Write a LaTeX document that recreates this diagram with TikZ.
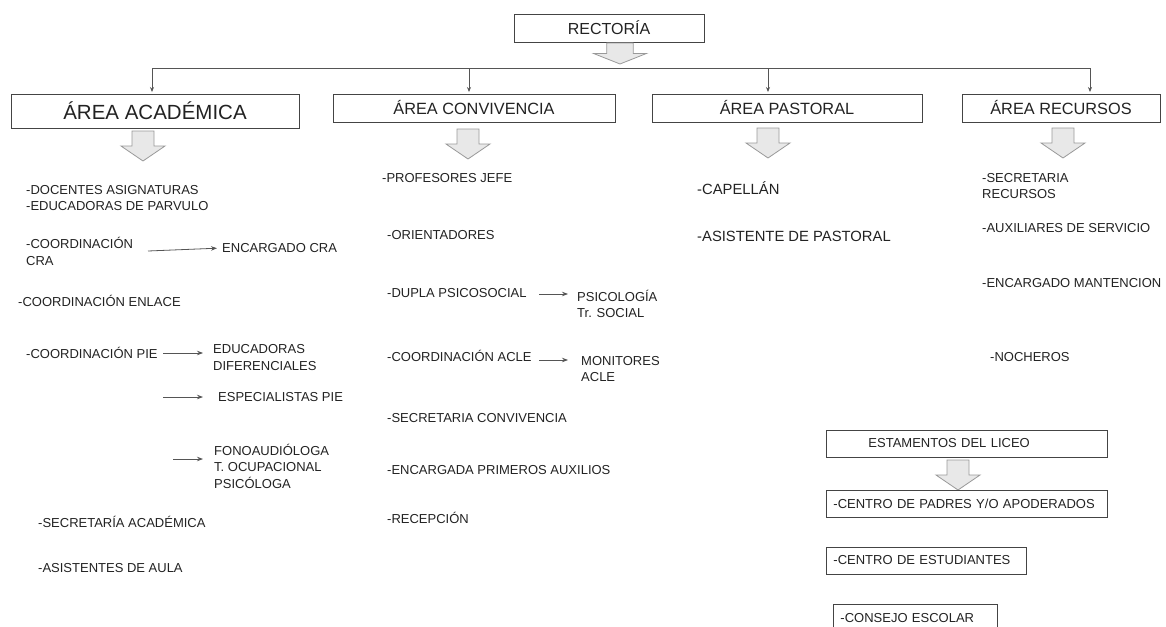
\documentclass[tikz,border=0pt]{standalone}
\usepackage{fontspec}
\setmainfont{Liberation Sans}
\usetikzlibrary{arrows.meta}
\definecolor{txt}{HTML}{222222}
\definecolor{boxc}{HTML}{444444}
\definecolor{bafill}{HTML}{E8E8E8}
\definecolor{bastroke}{HTML}{999999}
\definecolor{arrc}{HTML}{555555}
\begin{document}
\begin{tikzpicture}[x=1pt,y=-1pt,
  item/.style={anchor=west, inner sep=0pt, text=txt, font=\fontsize{13}{16.5}\selectfont, align=left},
  pitem/.style={item, font=\fontsize{14.8}{18}\selectfont},
  areabox/.style={draw=boxc, line width=0.9pt, text=txt, inner sep=0pt, font=\fontsize{16.3}{18}\selectfont},
  lbox/.style={draw=boxc, line width=0.9pt, text=txt, inner xsep=7pt, inner ysep=0pt, anchor=west, align=left, font=\fontsize{13}{16}\selectfont},
  arr/.style={draw=arrc, line width=0.8pt, -{Stealth[length=6pt,width=4.5pt]}},
  darr/.style={draw=arrc, line width=0.8pt, -{Stealth[length=5pt,width=4pt]}},
  barrow/.pic={\draw[draw=bastroke, fill=bafill, line width=0.8pt]
     (-11,0) -- (11,0) -- (11,15) -- (22,15) -- (0,30) -- (-22,15) -- (-11,15) -- cycle;}
]
\useasboundingbox (0,0) rectangle (1166,626);

% top
\node[areabox, minimum width=190pt, minimum height=28pt, font=\fontsize{16}{18}\selectfont] (rect) at (609,28) {RECTORÍA};
\pic[xscale=1.2, yscale=0.7] at (620,43) {barrow};

\node[areabox, minimum width=288pt, minimum height=34pt, font=\fontsize{20.5}{22}\selectfont] (acad) at (155,111) {ÁREA ACADÉMICA};
\node[areabox, minimum width=282pt, minimum height=28pt] (conv) at (474,108) {ÁREA CONVIVENCIA};
\node[areabox, minimum width=270pt, minimum height=28pt] (past) at (787,108) {ÁREA PASTORAL};
\node[areabox, minimum width=198pt, minimum height=28pt] (recu) at (1061,108) {ÁREA RECURSOS};

\coordinate (b1) at (152,68);
\coordinate (b2) at (469,68);
\coordinate (b3) at (768,68);
\coordinate (b4) at (1090,68);
\draw[draw=arrc, line width=0.8pt] (b1) -- (b4);
\draw[darr, shorten >=1.5pt] (b1) -- (b1 |- acad.north);
\draw[darr, shorten >=1.5pt] (b2) -- (b2 |- conv.north);
\draw[darr, shorten >=1.5pt] (b3) -- (b3 |- past.north);
\draw[darr, shorten >=1.5pt] (b4) -- (b4 |- recu.north);

\pic at (143,131) {barrow};
\pic at (468,129) {barrow};
\pic at (768,128) {barrow};
\pic at (1063,128) {barrow};

% academica
\node[item] (doc) at (26,190) {-DOCENTES ASIGNATURAS};
\node[item] (edp) at (26,206) {-EDUCADORAS DE PARVULO};
\node[item] (ccra) at (26,251.5) {-COORDINACIÓN\\CRA};
\node[item] (enccra) at (222,248) {ENCARGADO CRA};
\node[item] (enl) at (18,301) {-COORDINACIÓN ENLACE};
\node[item] (cpie) at (26,353) {-COORDINACIÓN PIE};
\node[item] (edif) at (213,357.5) {EDUCADORAS\\DIFERENCIALES};
\node[item] (espie) at (218,397) {ESPECIALISTAS PIE};
\node[item] (fono) at (214,466) {FONOAUDIÓLOGA\\T. OCUPACIONAL\\PSICÓLOGA};
\node[item] (secac) at (38,522) {-SECRETARÍA ACADÉMICA};
\node[item] (asau) at (38,568) {-ASISTENTES DE AULA};

\coordinate (ccraout) at (148,251);
\coordinate (pieout) at (163,353);
\coordinate (espout) at (163,397);
\coordinate (fonoout) at (173,459);
\draw[arr, shorten >=5pt] (ccraout) -- (enccra.west);
\draw[arr, shorten >=10pt] (pieout) -- (pieout -| edif.west);
\draw[arr, shorten >=15pt] (espout) -- (espout -| espie.west);
\draw[arr, shorten >=11pt] (fonoout) -- (fonoout -| fono.west);

% convivencia
\node[item] (pj) at (382,178) {-PROFESORES JEFE};
\node[item] (ori) at (387,235) {-ORIENTADORES};
\node[item] (dupla) at (387,293) {-DUPLA PSICOSOCIAL};
\node[item] (psic) at (577,304) {PSICOLOGÍA\\Tr. SOCIAL};
\node[item] (acle) at (387,356) {-COORDINACIÓN ACLE};
\node[item] (moni) at (581,369) {MONITORES\\ACLE};
\node[item] (secc) at (387,418) {-SECRETARIA CONVIVENCIA};
\node[item] (epa) at (387,470) {-ENCARGADA PRIMEROS AUXILIOS};
\node[item] (rec) at (387,518) {-RECEPCIÓN};

\coordinate (duplaout) at (539,294);
\coordinate (acleout) at (539,360);
\draw[arr, shorten >=9pt] (duplaout) -- (duplaout -| psic.west);
\draw[arr, shorten >=13pt] (acleout) -- (acleout -| moni.west);

% pastoral
\node[pitem] (cap) at (697,188) {-CAPELLÁN};
\node[pitem] (asp) at (697,236) {-ASISTENTE DE PASTORAL};

% recursos
\node[item] (secr) at (982,186) {-SECRETARIA\\RECURSOS};
\node[item] (aux) at (982,228) {-AUXILIARES DE SERVICIO};
\node[item] (man) at (982,283) {-ENCARGADO MANTENCION};
\node[item] (noch) at (990,357) {-NOCHEROS};

% estamentos
\node[lbox, text width=267pt, minimum height=27pt] (est) at (826,443.5) {\hspace*{35pt}ESTAMENTOS DEL LICEO};
\pic at (958,460) {barrow};
\node[lbox, text width=267pt, minimum height=27pt] (cpa) at (826,503.5) {-CENTRO DE PADRES Y/O APODERADOS};
\node[lbox, text width=186pt, minimum height=27pt] (cest) at (826,560.5) {-CENTRO DE ESTUDIANTES};
\node[lbox, text width=150pt, minimum height=28pt] (cesc) at (833,618) {-CONSEJO ESCOLAR};
\end{tikzpicture}
\end{document}
